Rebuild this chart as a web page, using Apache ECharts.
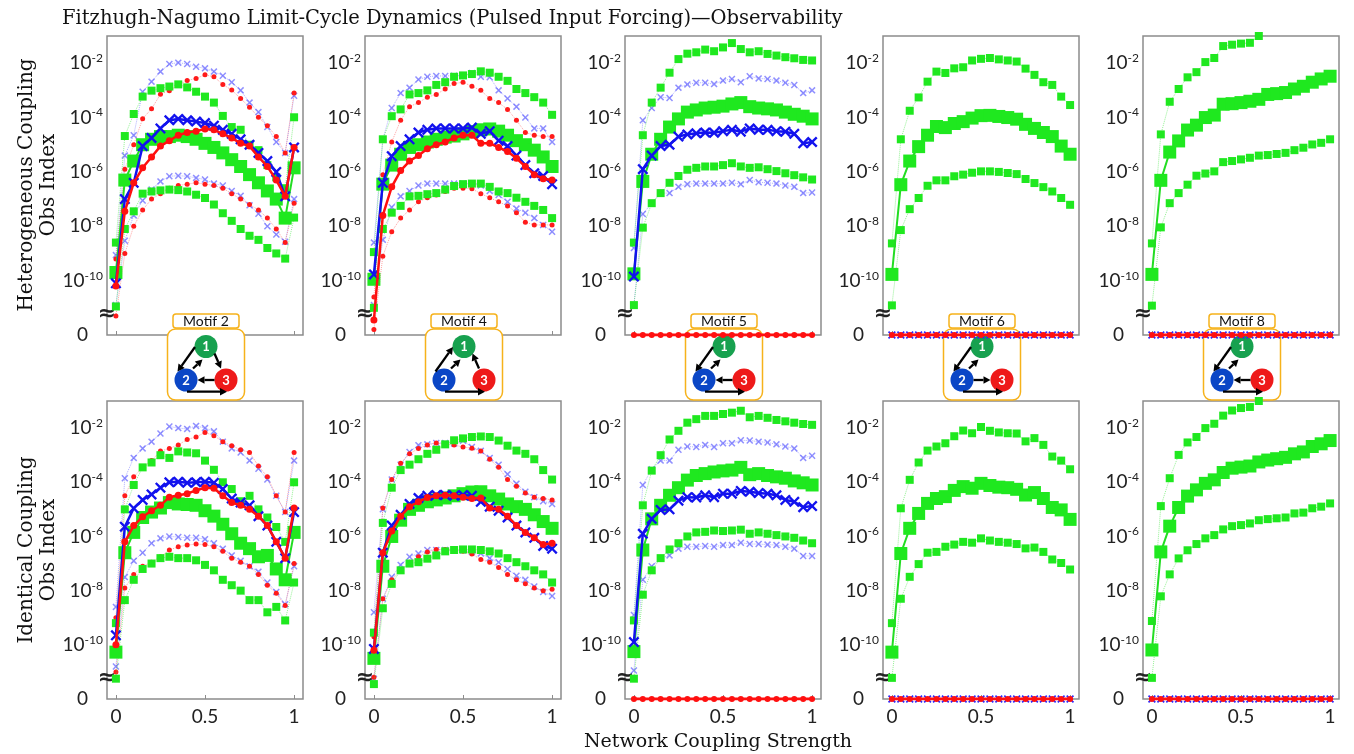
<!DOCTYPE html>
<html><head><meta charset="utf-8">
<script src="https://cdn.jsdelivr.net/npm/echarts@6/dist/echarts.min.js"></script>
<style>html,body{margin:0;padding:0;background:#fff}#c{width:1354px;height:754px}</style>
</head><body><div id="c"></div>
<script>
// ---------- DATA (Obs Index values stored as log10 exponents) ----------
const couplingStrength = [0,0.05,0.1,0.15,0.2,0.25,0.3,0.35,0.4,0.45,0.5,0.55,0.6,0.65,0.7,0.75,0.8,0.85,0.9,0.95,1];
const yTickExponents = [-2,-4,-6,-8,-10];
const xTickValues = [0,0.5,1];
const zeroObs = [0,0,0,0,0,0,0,0,0,0,0,0,0,0,0,0,0,0,0,0,0];
const motifNames = ['Motif 2','Motif 4','Motif 5','Motif 6','Motif 8'];
const rowTitles = ['Heterogeneous Coupling','Identical Coupling'];

// Motif 2 heterogeneous
const het2_blueMed = [-10.1,-7.0,-6.4,-5.05,-4.75,-4.4,-4.1,-4.05,-4.1,-4.15,-4.2,-4.3,-4.45,-4.6,-4.8,-5.0,-5.3,-5.6,-6.0,-6.9,-5.1];
const het2_redMed = [-10.2,-7.45,-6.4,-5.85,-5.45,-5.05,-4.85,-4.65,-4.55,-4.5,-4.42,-4.45,-4.6,-4.75,-4.95,-5.05,-5.45,-5.8,-6.3,-6.9,-5.1];
const het2_greenMed = [-9.7,-6.3,-5.6,-5.0,-4.8,-4.7,-4.7,-4.65,-4.7,-4.8,-4.95,-5.1,-5.3,-5.55,-5.8,-6.1,-6.4,-6.7,-7.0,-7.7,-5.85];
const het2_blueUp = [-9.06,-5.4,-4.65,-3.05,-2.68,-2.31,-2.03,-1.98,-2.03,-2.13,-2.19,-2.31,-2.46,-2.7,-3.0,-3.45,-3.8,-4.35,-4.9,-5.3,-3.2];
const het2_blueLo = [-10.9,-8.53,-7.6,-7.05,-6.65,-6.35,-6.16,-6.14,-6.16,-6.22,-6.28,-6.43,-6.5,-6.7,-6.88,-7.23,-7.54,-8.0,-8.3,-8.57,-7.0];
const het2_redUp = [-9.2,-5.9,-5.0,-4.04,-3.68,-3.14,-3.01,-2.8,-2.64,-2.56,-2.43,-2.5,-2.78,-2.99,-3.3,-3.62,-3.99,-4.3,-4.7,-5.3,-3.1];
const het2_redLo = [-11.3,-9.0,-8.0,-7.4,-7.0,-6.8,-6.6,-6.5,-6.45,-6.4,-6.45,-6.5,-6.6,-6.8,-7.0,-7.2,-7.4,-7.7,-8.1,-8.6,-7.15];
const het2_greenUp = [-8.6,-4.68,-3.87,-3.23,-3.01,-2.92,-2.86,-2.78,-2.89,-3.05,-3.23,-3.45,-3.94,-4.35,-4.45,-5.0,-5.2,-5.75,-6.2,-6.6,-3.99];
const het2_greenLo = [-10.95,-8.1,-7.45,-6.8,-6.72,-6.68,-6.65,-6.67,-6.72,-6.84,-6.96,-7.2,-7.52,-7.8,-8.1,-8.35,-8.5,-8.8,-9.0,-9.19,-7.68];

// Motif 2 identical
const id2_blueMed = [-9.65,-5.64,-4.96,-4.65,-4.45,-4.2,-4.0,-3.98,-4.02,-4.0,-3.98,-4.02,-4.25,-4.6,-4.75,-4.85,-5.25,-5.6,-6.2,-6.8,-5.1];
const id2_redMed = [-10.0,-6.2,-5.6,-5.27,-5.05,-4.85,-4.55,-4.48,-4.42,-4.3,-4.2,-4.22,-4.5,-4.75,-4.85,-5.0,-5.25,-5.6,-6.2,-6.8,-4.95];
const id2_greenMed = [-10.27,-6.6,-5.85,-5.3,-5.1,-4.95,-4.75,-4.8,-4.82,-4.85,-5.05,-5.25,-5.55,-5.9,-6.25,-6.45,-6.75,-6.7,-7.2,-7.6,-5.85];
const id2_blueUp = [-8.6,-3.85,-3.1,-2.75,-2.5,-2.2,-1.94,-2.0,-2.03,-1.92,-2.0,-2.12,-2.5,-2.75,-2.9,-3.2,-3.5,-3.9,-4.5,-5.1,-3.2];
const id2_blueLo = [-10.8,-7.5,-6.9,-6.6,-6.25,-6.07,-6.0,-6.02,-6.05,-6.05,-6.1,-6.25,-6.45,-6.7,-6.9,-7.1,-7.3,-7.7,-8.05,-8.5,-7.1];
const id2_redUp = [-9.0,-4.5,-3.8,-3.45,-3.2,-2.85,-2.75,-2.62,-2.42,-2.33,-2.16,-2.28,-2.5,-2.65,-2.8,-2.9,-3.4,-3.8,-4.5,-5.1,-2.9];
const id2_redLo = [-11.0,-7.9,-7.4,-7.1,-6.95,-6.75,-6.5,-6.38,-6.32,-6.28,-6.3,-6.38,-6.55,-6.8,-6.95,-7.1,-7.4,-7.8,-8.1,-8.55,-7.0];
const id2_greenUp = [-9.2,-5.0,-4.1,-3.45,-3.27,-3.0,-3.1,-2.86,-2.9,-2.93,-3.2,-3.54,-4.0,-4.25,-4.7,-4.5,-5.0,-5.3,-5.65,-6.2,-4.0];
const id2_greenLo = [-11.25,-8.35,-7.6,-7.2,-7.0,-6.8,-6.75,-6.8,-6.8,-6.88,-7.05,-7.25,-7.6,-7.8,-8.0,-8.35,-8.35,-8.8,-8.6,-9.1,-7.7];

// Motif 4 heterogeneous
const het4_blueMed = [-9.77,-6.4,-5.42,-5.05,-4.8,-4.55,-4.45,-4.4,-4.4,-4.4,-4.4,-4.37,-4.6,-4.5,-4.85,-5.05,-5.4,-5.75,-6.05,-6.15,-6.45];
const het4_redMed = [-11.45,-7.6,-6.55,-5.95,-5.6,-5.4,-5.15,-5.0,-4.9,-4.75,-4.65,-4.65,-4.95,-4.95,-5.1,-5.25,-5.5,-5.8,-6.1,-6.25,-6.3];
const het4_greenMed = [-9.95,-6.45,-5.75,-5.35,-5.1,-5.0,-4.9,-4.8,-4.72,-4.68,-4.6,-4.52,-4.45,-4.42,-4.5,-4.65,-4.85,-5.0,-5.2,-5.45,-5.8];
const het4_blueUp = [-8.6,-4.8,-3.65,-3.1,-2.9,-2.6,-2.5,-2.47,-2.47,-2.46,-2.46,-2.36,-2.5,-2.52,-3.0,-3.3,-3.6,-4.0,-4.4,-4.4,-4.9];
const het4_blueLo = [-10.9,-8.5,-7.3,-6.9,-6.7,-6.5,-6.43,-6.43,-6.43,-6.43,-6.43,-6.43,-6.5,-6.7,-6.85,-7.1,-7.35,-7.5,-7.7,-7.95,-8.2];
const het4_redUp = [-10.6,-6.1,-4.9,-4.1,-3.6,-3.45,-3.25,-3.15,-2.95,-2.75,-2.7,-2.85,-3.0,-3.3,-3.45,-3.7,-4.1,-4.55,-4.65,-4.7,-4.7];
const het4_redLo = [-11.8,-9.1,-8.2,-7.7,-7.4,-7.1,-6.95,-6.85,-6.72,-6.6,-6.6,-6.62,-6.8,-6.95,-7.1,-7.25,-7.5,-7.85,-7.95,-7.95,-7.95];
const het4_greenUp = [-8.95,-4.8,-3.95,-3.7,-3.15,-3.1,-3.0,-2.8,-2.7,-2.5,-2.45,-2.4,-2.3,-2.35,-2.5,-2.65,-2.95,-3.1,-3.25,-3.45,-3.9];
const het4_greenLo = [-11.0,-8.1,-7.5,-7.25,-6.9,-6.88,-6.82,-6.78,-6.65,-6.52,-6.45,-6.43,-6.43,-6.55,-6.72,-6.78,-6.95,-7.1,-7.25,-7.4,-7.7];

// Motif 4 identical
const id4_blueMed = [-10.15,-6.6,-5.6,-5.2,-4.8,-4.58,-4.5,-4.47,-4.47,-4.5,-4.47,-4.5,-4.72,-4.9,-5.05,-5.3,-5.6,-5.85,-6.05,-6.35,-6.45];
const id4_redMed = [-10.2,-6.6,-5.8,-5.25,-4.9,-4.72,-4.56,-4.5,-4.48,-4.5,-4.55,-4.6,-4.58,-4.95,-5.0,-5.25,-5.6,-5.85,-6.05,-6.3,-6.25];
const id4_greenMed = [-10.5,-7.1,-6.0,-5.4,-5.0,-4.85,-4.72,-4.65,-4.58,-4.5,-4.42,-4.36,-4.35,-4.5,-4.62,-4.8,-4.9,-5.0,-5.2,-5.45,-5.7];
const id4_blueUp = [-8.8,-5.0,-3.9,-3.35,-2.88,-2.63,-2.6,-2.55,-2.55,-2.57,-2.47,-2.7,-2.84,-3.1,-3.35,-3.7,-4.05,-4.35,-4.55,-4.7,-4.8];
const id4_blueLo = [-11.25,-8.3,-7.5,-7.05,-6.75,-6.63,-6.5,-6.5,-6.5,-6.5,-6.52,-6.57,-6.63,-6.8,-6.95,-7.2,-7.45,-7.6,-7.85,-8.05,-8.2];
const id4_redUp = [-9.7,-4.95,-3.9,-3.3,-2.95,-2.75,-2.62,-2.55,-2.6,-2.62,-2.7,-2.74,-2.85,-3.15,-3.45,-3.9,-4.15,-4.4,-4.55,-4.6,-4.65];
const id4_redLo = [-11.2,-8.3,-7.6,-7.25,-6.95,-6.75,-6.57,-6.48,-6.48,-6.5,-6.55,-6.65,-6.85,-6.95,-7.15,-7.4,-7.6,-7.75,-7.9,-8.0,-7.95];
const id4_greenUp = [-9.55,-5.5,-4.2,-3.55,-3.35,-3.15,-2.95,-2.8,-2.6,-2.45,-2.38,-2.33,-2.31,-2.33,-2.46,-2.65,-2.83,-2.95,-3.15,-3.55,-3.9];
const id4_greenLo = [-11.45,-8.65,-7.75,-7.25,-7.0,-6.95,-6.82,-6.7,-6.55,-6.5,-6.48,-6.48,-6.5,-6.55,-6.63,-6.8,-6.95,-7.1,-7.25,-7.4,-7.7];

// Motif 5 heterogeneous (red node unobservable: 0)
const het5_blueMed = [-9.85,-5.9,-5.4,-5.05,-5.0,-4.7,-4.62,-4.58,-4.55,-4.56,-4.5,-4.45,-4.52,-4.4,-4.45,-4.45,-4.5,-4.52,-4.6,-4.95,-4.9];
const het5_greenMed = [-9.75,-6.35,-5.35,-4.8,-4.35,-4.05,-3.8,-3.72,-3.65,-3.62,-3.58,-3.5,-3.45,-3.6,-3.65,-3.68,-3.72,-3.8,-3.88,-3.95,-4.05];
const het5_blueUp = [-8.8,-4.1,-3.65,-3.25,-3.28,-2.9,-2.78,-2.72,-2.72,-2.77,-2.64,-2.58,-2.7,-2.48,-2.56,-2.58,-2.64,-2.72,-2.8,-3.1,-3.0];
const het5_blueLo = [-10.9,-7.55,-7.15,-6.78,-6.78,-6.55,-6.45,-6.43,-6.43,-6.43,-6.43,-6.4,-6.45,-6.3,-6.38,-6.4,-6.43,-6.5,-6.55,-6.78,-6.76];
const het5_greenUp = [-8.6,-4.65,-3.45,-2.9,-2.35,-1.85,-1.65,-1.6,-1.5,-1.56,-1.42,-1.26,-1.48,-1.6,-1.56,-1.66,-1.72,-1.78,-1.82,-1.88,-1.9];
const het5_greenLo = [-10.9,-8.05,-7.15,-6.78,-6.4,-6.15,-5.92,-5.85,-5.8,-5.8,-5.75,-5.68,-5.8,-5.85,-5.83,-5.9,-5.97,-6.05,-6.12,-6.2,-6.28];

// Motif 5 identical
const id5_blueMed = [-9.9,-5.9,-5.35,-5.02,-5.0,-4.68,-4.55,-4.56,-4.48,-4.55,-4.42,-4.42,-4.32,-4.35,-4.4,-4.42,-4.48,-4.65,-4.72,-4.92,-4.88];
const id5_greenMed = [-10.25,-6.5,-5.35,-4.85,-4.48,-4.2,-3.92,-3.75,-3.68,-3.62,-3.58,-3.55,-3.45,-3.72,-3.68,-3.75,-3.8,-3.85,-3.95,-4.02,-4.1];
const id5_blueUp = [-8.9,-4.1,-3.52,-3.2,-3.2,-2.8,-2.68,-2.7,-2.62,-2.7,-2.56,-2.56,-2.45,-2.46,-2.5,-2.53,-2.6,-2.68,-2.75,-3.1,-3.02];
const id5_blueLo = [-10.95,-7.6,-7.1,-6.8,-6.7,-6.45,-6.38,-6.38,-6.35,-6.38,-6.32,-6.32,-6.23,-6.28,-6.28,-6.3,-6.32,-6.38,-6.45,-6.72,-6.72];
const id5_greenUp = [-9.1,-4.85,-3.57,-3.0,-2.42,-2.1,-1.8,-1.67,-1.55,-1.55,-1.48,-1.43,-1.36,-1.6,-1.55,-1.62,-1.7,-1.75,-1.8,-1.85,-1.88];
const id5_greenLo = [-11.25,-8.15,-7.25,-6.8,-6.48,-6.25,-6.0,-5.85,-5.83,-5.78,-5.8,-5.78,-5.75,-5.9,-5.85,-5.9,-5.95,-6.0,-6.05,-6.15,-6.25];

// Motif 6 (blue and red nodes unobservable: 0)
const het6_greenMed = [-9.77,-6.47,-5.6,-5.07,-4.65,-4.33,-4.37,-4.22,-4.15,-4.02,-3.93,-3.92,-3.96,-4.0,-4.06,-4.25,-4.4,-4.55,-4.7,-5.05,-5.35];
const het6_greenUp = [-8.63,-4.8,-3.75,-3.26,-2.68,-2.31,-2.36,-2.19,-2.15,-1.9,-1.84,-1.81,-1.86,-1.9,-1.94,-2.2,-2.43,-2.7,-2.8,-3.23,-3.54];
const het6_greenLo = [-10.91,-8.14,-7.37,-6.96,-6.51,-6.31,-6.31,-6.16,-6.1,-6.03,-5.98,-5.98,-6.0,-6.04,-6.08,-6.26,-6.41,-6.56,-6.72,-6.96,-7.21];
const id6_greenMed = [-10.27,-6.63,-5.7,-5.15,-4.78,-4.6,-4.53,-4.3,-4.16,-4.22,-4.04,-4.12,-4.18,-4.2,-4.26,-4.47,-4.38,-4.6,-4.93,-5.02,-5.37];
const id6_greenUp = [-9.2,-4.96,-3.91,-3.27,-2.83,-2.68,-2.56,-2.3,-2.09,-2.19,-1.96,-2.1,-2.16,-2.19,-2.2,-2.49,-2.37,-2.62,-3.05,-3.2,-3.52];
const id6_greenLo = [-11.22,-8.3,-7.49,-7.02,-6.6,-6.57,-6.38,-6.3,-6.2,-6.23,-6.07,-6.15,-6.2,-6.23,-6.28,-6.44,-6.41,-6.57,-6.85,-6.98,-7.22];

// Motif 8 (blue and red nodes unobservable: 0); upper band leaves the plot top
const het8_greenMed = [-9.77,-6.31,-5.27,-4.86,-4.46,-4.28,-4.0,-3.91,-3.51,-3.49,-3.45,-3.4,-3.33,-3.15,-3.12,-3.08,-2.95,-2.85,-2.7,-2.58,-2.48];
const het8_greenUp = [-8.63,-4.62,-3.42,-2.95,-2.52,-2.33,-1.96,-1.81,-1.37,-1.32,-1.28,-1.25,-1.0,-0.95,-0.9,-0.85,-0.8,-0.75,-0.7,-0.65,-0.6];
const het8_greenLo = [-10.92,-8.04,-7.15,-6.78,-6.47,-6.14,-6.06,-5.98,-5.64,-5.6,-5.54,-5.48,-5.4,-5.38,-5.34,-5.3,-5.2,-5.11,-4.99,-4.93,-4.8];
const id8_greenMed = [-10.19,-6.57,-5.62,-4.93,-4.51,-4.28,-4.04,-3.91,-3.64,-3.48,-3.44,-3.4,-3.25,-3.18,-3.13,-3.08,-2.95,-2.88,-2.68,-2.58,-2.46];
const id8_greenUp = [-9.12,-4.88,-3.85,-2.99,-2.53,-2.33,-2.0,-1.84,-1.54,-1.35,-1.26,-1.22,-1.0,-0.95,-0.9,-0.85,-0.8,-0.75,-0.7,-0.65,-0.6];
const id8_greenLo = [-11.22,-8.21,-7.4,-6.81,-6.51,-6.28,-6.07,-5.95,-5.74,-5.62,-5.58,-5.52,-5.4,-5.36,-5.33,-5.3,-5.15,-5.12,-4.96,-4.9,-4.78];

// ---------- PANELS ----------
const panels = [
  {row:0,col:0,s:{blueUp:het2_blueUp,blueLo:het2_blueLo,redUp:het2_redUp,redLo:het2_redLo,greenUp:het2_greenUp,greenLo:het2_greenLo,greenMed:het2_greenMed,blueMed:het2_blueMed,redMed:het2_redMed}},
  {row:0,col:1,s:{blueUp:het4_blueUp,blueLo:het4_blueLo,redUp:het4_redUp,redLo:het4_redLo,greenUp:het4_greenUp,greenLo:het4_greenLo,greenMed:het4_greenMed,blueMed:het4_blueMed,redMed:het4_redMed}},
  {row:0,col:2,s:{blueUp:het5_blueUp,blueLo:het5_blueLo,greenUp:het5_greenUp,greenLo:het5_greenLo,greenMed:het5_greenMed,blueMed:het5_blueMed,redZero:zeroObs}},
  {row:0,col:3,s:{greenUp:het6_greenUp,greenLo:het6_greenLo,greenMed:het6_greenMed,blueZero:zeroObs,redZero:zeroObs}},
  {row:0,col:4,s:{greenUp:het8_greenUp,greenLo:het8_greenLo,greenMed:het8_greenMed,blueZero:zeroObs,redZero:zeroObs}},
  {row:1,col:0,s:{blueUp:id2_blueUp,blueLo:id2_blueLo,redUp:id2_redUp,redLo:id2_redLo,greenUp:id2_greenUp,greenLo:id2_greenLo,greenMed:id2_greenMed,blueMed:id2_blueMed,redMed:id2_redMed}},
  {row:1,col:1,s:{blueUp:id4_blueUp,blueLo:id4_blueLo,redUp:id4_redUp,redLo:id4_redLo,greenUp:id4_greenUp,greenLo:id4_greenLo,greenMed:id4_greenMed,blueMed:id4_blueMed,redMed:id4_redMed}},
  {row:1,col:2,s:{blueUp:id5_blueUp,blueLo:id5_blueLo,greenUp:id5_greenUp,greenLo:id5_greenLo,greenMed:id5_greenMed,blueMed:id5_blueMed,redZero:zeroObs}},
  {row:1,col:3,s:{greenUp:id6_greenUp,greenLo:id6_greenLo,greenMed:id6_greenMed,blueZero:zeroObs,redZero:zeroObs}},
  {row:1,col:4,s:{greenUp:id8_greenUp,greenLo:id8_greenLo,greenMed:id8_greenMed,blueZero:zeroObs,redZero:zeroObs}}
];

// ---------- LAYOUT / STYLE ----------
const Y_MIN = -12, Y_MAX = -1;       // axis floor (labelled "0") and top
const GRID_LEFT = [107, 365, 625, 883, 1143];
const GRID_W = 196;
const ROW_TOP = [36, 401];
const ROW_H = [299, 298];
const XPATH = 'path://M0,1.5L1.5,0L5,3.5L8.5,0L10,1.5L6.5,5L10,8.5L8.5,10L5,6.5L1.5,10L0,8.5L3.5,5Z';
const LABEL_FONT = 'Lato, "Open Sans", sans-serif';
const SERIF = '"DejaVu Serif", "Liberation Serif", serif';

const styles = {
  blueUp:  {symbol:XPATH, size:7, color:'rgba(70,70,255,0.6)', line:{type:'dotted', width:1, color:'rgba(110,110,255,0.55)'}, z:3},
  blueLo:  {symbol:XPATH, size:7, color:'rgba(70,70,255,0.6)', line:{type:'dotted', width:1, color:'rgba(110,110,255,0.55)'}, z:3},
  redUp:   {symbol:'circle', size:5, color:'#ff1a1a', line:{type:'dotted', width:1, color:'rgba(255,90,90,0.55)'}, z:3},
  redLo:   {symbol:'circle', size:5, color:'#ff1a1a', line:{type:'dotted', width:1, color:'rgba(255,90,90,0.55)'}, z:3},
  greenUp: {symbol:'rect', size:8, color:'#1fe81f', line:{type:'dotted', width:1, color:'rgba(60,230,60,0.55)'}, z:4},
  greenLo: {symbol:'rect', size:8, color:'#1fe81f', line:{type:'dotted', width:1, color:'rgba(60,230,60,0.55)'}, z:4},
  greenMed:{symbol:'rect', size:13, color:'#1fe81f', line:{type:'solid', width:2, color:'#22dd22'}, z:5},
  blueMed: {symbol:XPATH, size:11, color:'#1212ee', line:{type:'solid', width:2.5, color:'#1212ee'}, z:6},
  redMed:  {symbol:'circle', size:7, color:'#ff1010', line:{type:'solid', width:2.5, color:'#ff1010'}, z:7},
  blueZero:{symbol:XPATH, size:8, color:'#2a2aff', line:{type:'solid', width:2, color:'#2a2aff'}, z:6, zero:true},
  redZero: {symbol:'circle', size:6, color:'#ff1010', line:{type:'solid', width:3, color:'#ff1010'}, z:7, zero:true}
};

const grids = [], xAxes = [], yAxes = [], series = [];
panels.forEach((p, gi) => {
  grids.push({left: GRID_LEFT[p.col], top: ROW_TOP[p.row], width: GRID_W, height: ROW_H[p.row],
    show: true, borderColor: '#8c8c8c', borderWidth: 1.5, backgroundColor: 'transparent', z: 0});
  xAxes.push({type:'value', gridIndex: gi, min: -0.05, max: 1.05,
    axisLine:{show:false}, splitLine:{show:false},
    axisTick:{show:true, inside:true, length:4, customValues: xTickValues, lineStyle:{color:'#8c8c8c'}},
    axisLabel:{show: p.row === 1, customValues: xTickValues, fontFamily: LABEL_FONT, fontSize: 19, color:'#222', margin: 8,
      formatter: v => String(v)}});
  yAxes.push({type:'value', gridIndex: gi, min: Y_MIN, max: Y_MAX, interval: 1,
    axisLine:{show:false}, splitLine:{show:false}, axisTick:{show:false},
    axisLabel:{margin: 4, formatter: v => {
        if (v === Y_MIN) return '{z|0}';
        if (yTickExponents.indexOf(v) >= 0) return '{b|10}{s|' + v + '}';
        return '';
      },
      rich:{
        b:{fontFamily: LABEL_FONT, fontSize: 19, color:'#222', lineHeight: 22},
        s:{fontFamily: LABEL_FONT, fontSize: 12, color:'#222', lineHeight: 12, verticalAlign:'top'},
        z:{fontFamily: LABEL_FONT, fontSize: 19, color:'#222', padding:[0,15,0,0]}
      }}});
  Object.keys(p.s).forEach(k => {
    const st = styles[k], vals = p.s[k];
    series.push({type:'line', xAxisIndex: gi, yAxisIndex: gi, z: st.z, clip: true,
      symbol: st.symbol, symbolSize: st.size, showSymbol: true,
      itemStyle:{color: st.color, opacity: 1}, lineStyle: st.line,
      emphasis:{disabled:true}, silent: true,
      data: couplingStrength.map((x, i) => [x, st.zero ? (vals[i] === 0 ? Y_MIN : Math.log10(vals[i])) : vals[i]])});
  });
});

// ---------- MOTIF DIAGRAMS ----------
const motifEdges = [
  ['L12','i21','d13','h32','b23'],
  ['L21','d31','i21','b23'],
  ['L12','i21','h32','b23'],
  ['L12','i21','h23','b23'],
  ['i21','h32','b23','L12']
];
const ORANGE = '#f6b21b';
function arrowEls(x1, y1, x2, y2) {
  const a = Math.atan2(y2 - y1, x2 - x1), L = 7, W = 3.8;
  const bx = x2 - L * Math.cos(a), by = y2 - L * Math.sin(a);
  const px = -Math.sin(a), py = Math.cos(a);
  return [
    {type:'line', shape:{x1, y1, x2: bx, y2: by}, style:{stroke:'#000', lineWidth: 2.3}, z: 1, silent: true},
    {type:'polygon', shape:{points:[[x2, y2],[bx + px*W, by + py*W],[bx - px*W, by - py*W]]}, style:{fill:'#000'}, z: 1, silent: true}
  ];
}
function motifGraphic(ci) {
  const cx = GRID_LEFT[ci] + GRID_W / 2 + 1, top = 329;
  const els = [];
  els.push({type:'rect', shape:{x: cx - 38.5, y: top, width: 77, height: 71, r: 8}, style:{fill:'#fff', stroke: ORANGE, lineWidth: 1.5}, z: 1, silent: true});
  els.push({type:'rect', shape:{x: cx - 33, y: top - 15, width: 66, height: 14, r: 3}, style:{fill:'#fff', stroke: ORANGE, lineWidth: 1.5}, z: 1, silent: true});
  els.push({type:'text', x: cx, y: top - 7.5, style:{text: motifNames[ci], font: '14px ' + LABEL_FONT, fill:'#111', align:'center', verticalAlign:'middle'}, z: 1, silent: true});
  const n = {1:[cx, top + 17.5], 2:[cx - 20, top + 51], 3:[cx + 20, top + 51]};
  const col = {1:'#17a14f', 2:'#0b46c6', 3:'#ee1a1a'};
  [1,2,3].forEach(k => {
    els.push({type:'circle', shape:{cx: n[k][0], cy: n[k][1], r: 11.5}, style:{fill: col[k]}, z: 1, silent: true});
    els.push({type:'text', x: n[k][0], y: n[k][1] + 0.5, style:{text: String(k), font: 'bold 13px ' + LABEL_FONT, fill:'#fff', align:'center', verticalAlign:'middle'}, z: 1, silent: true});
  });
  const seg = {
    L12: [cx - 11, top + 18, cx - 28.5, top + 42.5],
    L21: [cx - 28.5, top + 42.5, cx - 11, top + 18],
    i21: [cx - 13, top + 39.5, cx - 3.5, top + 30.5],
    d13: [cx + 8.5, top + 24.5, cx + 15, top + 39.5],
    d31: [cx + 15, top + 39.5, cx + 8.5, top + 24.5],
    h32: [cx + 8.5, top + 51, cx - 8.5, top + 51],
    h23: [cx - 8.5, top + 51, cx + 8.5, top + 51],
    b23: [cx - 19, top + 62.7, cx + 21, top + 62.7]
  };
  motifEdges[ci].forEach(e => { const s = seg[e]; arrowEls(s[0], s[1], s[2], s[3]).forEach(el => els.push(el)); });
  return els;
}

const graphics = [];
for (let c = 0; c < 5; c++) motifGraphic(c).forEach(e => graphics.push(e));
// row titles (rotated)
[[185, 0], [550, 1]].forEach(([cy, r]) => {
  graphics.push({type:'text', x: 27, y: cy, rotation: Math.PI / 2, style:{text: rowTitles[r], font: '20px ' + SERIF, fill:'#111', align:'center', verticalAlign:'middle'}, silent: true});
  graphics.push({type:'text', x: 49, y: cy, rotation: Math.PI / 2, style:{text: 'Obs Index', font: '20px ' + SERIF, fill:'#111', align:'center', verticalAlign:'middle'}, silent: true});
});
graphics.push({type:'text', x: 718, y: 742, style:{text:'Network Coupling Strength', font:'19px ' + SERIF, fill:'#111', align:'center', verticalAlign:'middle'}, silent: true});

const chart = echarts.init(document.getElementById('c'), null, {renderer:'canvas'});
chart.setOption({
  animation: false,
  backgroundColor: '#fff',
  title: {text: 'Fitzhugh-Nagumo Limit-Cycle Dynamics (Pulsed Input Forcing)\u2014Observability', left: 57, top: 4,
    textStyle:{fontFamily: SERIF, fontSize: 19.5, fontWeight: 'normal', color:'#111'}},
  grid: grids, xAxis: xAxes, yAxis: yAxes, series: series,
  graphic: {elements: graphics}
});
// axis-break marks placed through each grid's own scale
const breaks = [];
panels.forEach((p, gi) => {
  const pt = chart.convertToPixel({xAxisIndex: gi, yAxisIndex: gi}, [-0.05, -11.25]);
  breaks.push({type:'text', x: pt[0], y: pt[1], style:{text:'\u2248', font:'bold 22px "DejaVu Sans", sans-serif', fill:'#222', align:'center', verticalAlign:'middle'}, z: 2, silent: true});
});
chart.setOption({graphic: {elements: graphics.concat(breaks)}}, {replaceMerge: ['graphic']});
</script></body></html>
